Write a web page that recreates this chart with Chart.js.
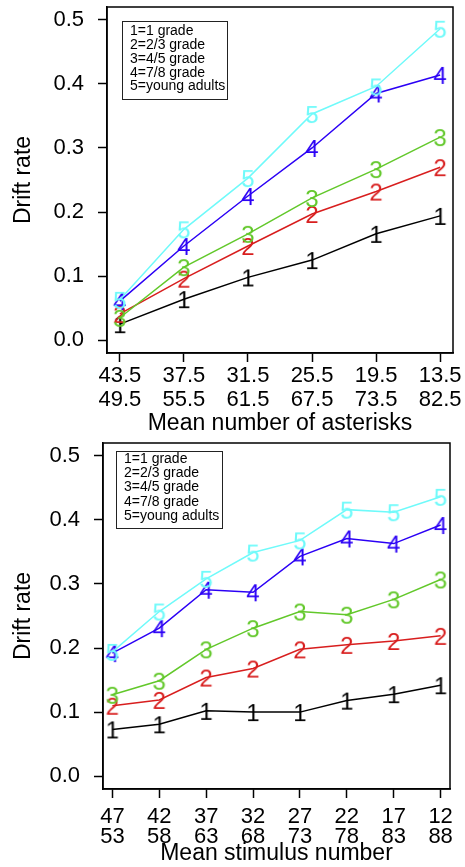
<!DOCTYPE html>
<html><head><meta charset="utf-8">
<script src="https://cdn.jsdelivr.net/npm/chart.js@4"></script>
<style>
html,body{margin:0;padding:0;background:#fff;}
canvas{display:block;position:absolute;left:0;}
</style>
</head><body>
<canvas id="c1" width="465" height="440" style="top:0;width:465px;height:440px"></canvas>
<canvas id="c2" width="465" height="427" style="top:440px;width:465px;height:427px"></canvas>
<script>
// ---- data ----
const groupLabels = ['1=1 grade', '2=2/3 grade', '3=4/5 grade', '4=7/8 grade', '5=young adults'];
const groupMarks = ['1', '2', '3', '4', '5'];
const groupColors = ['#000000', '#D81E1E', '#62C82A', '#2B00F5', '#6FFAFA'];
const yTickValues = [0.0, 0.1, 0.2, 0.3, 0.4, 0.5];

// Top panel: asterisks
const asteriskTicksLow = ['43.5', '37.5', '31.5', '25.5', '19.5', '13.5'];
const asteriskTicksHigh = ['49.5', '55.5', '61.5', '67.5', '73.5', '82.5'];
const asteriskG1 = [0.025, 0.064, 0.098, 0.125, 0.166, 0.194];
const asteriskG2 = [0.041, 0.096, 0.147, 0.197, 0.232, 0.270];
const asteriskG3 = [0.035, 0.114, 0.166, 0.222, 0.267, 0.317];
const asteriskG4 = [0.061, 0.147, 0.225, 0.300, 0.385, 0.414];
const asteriskG5 = [0.063, 0.173, 0.253, 0.353, 0.396, 0.486];

// Bottom panel: numbers
const numberTicksLow = ['47', '42', '37', '32', '27', '22', '17', '12'];
const numberTicksHigh = ['53', '58', '63', '68', '73', '78', '83', '88'];
const numberG1 = [0.073, 0.081, 0.102, 0.100, 0.100, 0.118, 0.128, 0.142];
const numberG2 = [0.110, 0.119, 0.154, 0.168, 0.198, 0.205, 0.211, 0.219];
const numberG3 = [0.127, 0.149, 0.198, 0.231, 0.257, 0.252, 0.276, 0.307];
const numberG4 = [0.192, 0.231, 0.291, 0.287, 0.343, 0.371, 0.363, 0.392];
const numberG5 = [0.194, 0.257, 0.308, 0.349, 0.368, 0.416, 0.412, 0.436];

// ---- helpers ----
const FONT = '"Liberation Sans", Arial, Helvetica, sans-serif';

function markCanvas(ch, color) {
  const c = document.createElement('canvas');
  c.width = 26; c.height = 26;
  const g = c.getContext('2d');
  g.font = '24px ' + FONT;
  g.fillStyle = color;
  g.textAlign = 'center';
  g.textBaseline = 'alphabetic';
  g.fillText(ch, 13, 13 + 0.358 * 24);
  return c;
}

const framePlugin = {
  id: 'frame',
  afterDraw(chart, args, opts) {
    const {ctx, chartArea: a} = chart;
    ctx.save();
    ctx.strokeStyle = '#000';
    ctx.lineWidth = 1.5;
    ctx.strokeRect(a.left, a.top, a.right - a.left, a.bottom - a.top);
    // legend box
    const lx = a.left + opts.dx, ly = a.top + opts.dy;
    ctx.lineWidth = 1;
    ctx.strokeStyle = '#222';
    ctx.strokeRect(lx + 0.5, ly + 0.5, opts.w, opts.h);
    ctx.fillStyle = '#000';
    ctx.font = '14px ' + FONT;
    ctx.textAlign = 'left';
    ctx.textBaseline = 'middle';
    groupLabels.forEach((t, i) => {
      ctx.fillText(t, lx + 8, ly + opts.first + i * opts.step);
    });
    ctx.restore();
  }
};

function makeChart(id, cfg) {
  const datasets = cfg.series.map((s, i) => ({
    label: groupLabels[i],
    data: s.map((v, j) => ({x: j + 1, y: v})),
    borderColor: groupColors[i],
    backgroundColor: groupColors[i],
    borderWidth: 1.5,
    pointStyle: markCanvas(groupMarks[i], groupColors[i]),
    pointRadius: 10,
    pointHoverRadius: 10,
    tension: 0,
    fill: false,
    order: 4 - i
  }));
  const n = cfg.low.length;
  return new Chart(document.getElementById(id), {
    type: 'line',
    data: {datasets},
    plugins: [framePlugin],
    options: {
      responsive: false,
      animation: false,
      devicePixelRatio: 1,
      events: [],
      layout: {autoPadding: false, padding: {top: cfg.padTop, right: cfg.padRight, left: 0, bottom: 0}},
      plugins: {
        legend: {display: false},
        tooltip: {enabled: false},
        frame: cfg.legend
      },
      scales: {
        x: {
          type: 'linear',
          min: 0.8,
          max: n + 0.2,
          afterBuildTicks: s => { s.ticks = cfg.low.map((_, i) => ({value: i + 1})); },
          afterFit: s => { s.height = cfg.xH; },
          ticks: {
            autoSkip: false, maxRotation: 0, minRotation: 0,
            color: '#000',
            padding: cfg.xPad,
            font: {family: FONT, size: 22, lineHeight: cfg.xLine + 'px'},
            callback: (v, i) => [cfg.low[i], cfg.high[i]]
          },
          grid: {drawOnChartArea: false, drawTicks: true, tickLength: 9, color: '#000', tickWidth: 1.5},
          border: {display: true, color: '#000', width: 1.5},
          title: {display: true, text: cfg.xTitle, color: '#000',
                  font: {family: FONT, size: 23, lineHeight: 1.2},
                  padding: {top: 0, bottom: cfg.xTitlePad}}
        },
        y: {
          type: 'linear',
          min: -0.02,
          max: 0.52,
          afterBuildTicks: s => { s.ticks = yTickValues.map(v => ({value: v})); },
          afterFit: s => { s.width = cfg.yW; s.paddingTop = 0; s.paddingBottom = 0; },
          ticks: {
            color: '#000', padding: 14,
            font: {family: FONT, size: 22, lineHeight: '1px'},
            callback: v => Number(v).toFixed(1)
          },
          grid: {drawOnChartArea: false, drawTicks: true, tickLength: 9, color: '#000', tickWidth: 1.5},
          border: {display: true, color: '#000', width: 1.5},
          title: {display: true, text: 'Drift rate', color: '#000',
                  font: {family: FONT, size: 23, lineHeight: 1.2},
                  padding: {top: 10, bottom: 0}}
        }
      }
    }
  });
}

makeChart('c1', {
  series: [asteriskG1, asteriskG2, asteriskG3, asteriskG4, asteriskG5],
  low: asteriskTicksLow, high: asteriskTicksHigh,
  xTitle: 'Mean number of asterisks',
  padTop: 7, padRight: 12, yW: 107, xH: 87, xPad: 2, xLine: 24, xTitlePad: 3,
  legend: {dx: 15, dy: 14, w: 105, h: 78, first: 10, step: 13.9}
});

makeChart('c2', {
  series: [numberG1, numberG2, numberG3, numberG4, numberG5],
  low: numberTicksLow, high: numberTicksHigh,
  xTitle: 'Mean stimulus number',
  padTop: 3, padRight: 15, yW: 103, xH: 78, xPad: 9, xLine: 20, xTitlePad: 0,
  legend: {dx: 13, dy: 8, w: 106, h: 77, first: 8, step: 14.3}
});
</script>
</body></html>
